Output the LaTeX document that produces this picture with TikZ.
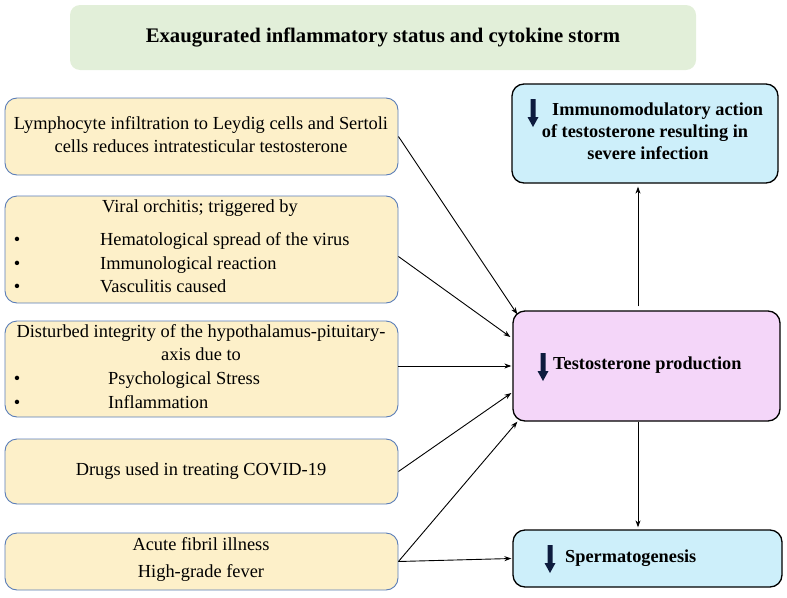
\documentclass[tikz,border=0pt]{standalone}
\usepackage{fontspec}
\setmainfont{Liberation Serif}
\usetikzlibrary{arrows.meta,calc}
\definecolor{leftfill}{HTML}{FDF0C9}
\definecolor{leftdraw}{HTML}{5A7DB8}
\definecolor{cyanfill}{HTML}{CDEFFA}
\definecolor{pinkfill}{HTML}{F4D6F9}
\definecolor{titlefill}{HTML}{E2EFD9}
\definecolor{navy}{HTML}{0D1B3E}
\begin{document}
\begin{tikzpicture}[x=1pt,y=-1pt,
 leftbox/.style={draw=leftdraw, line width=0.9pt, fill=leftfill, rounded corners=12pt, inner sep=0pt},
 rightbox/.style={draw=black, line width=1.3pt, rounded corners=12pt, inner sep=0pt},
 txt/.style={font=\fontsize{18.4}{21}\selectfont, inner sep=0pt, anchor=mid},
 ltxt/.style={txt, anchor=mid west},
 btxt/.style={font=\bfseries\fontsize{18.3}{21}\selectfont, inner sep=0pt, anchor=mid},
 conn/.style={line width=0.9pt, -{Stealth[length=7pt,width=5pt]}},
 downpic/.pic={\fill[navy] (-2.5,0) -- (2.5,0) -- (2.5,18) -- (5.5,18) -- (0,28) -- (-5.5,18) -- (-2.5,18) -- cycle;}
]
\useasboundingbox (0,0) rectangle (787,597);

% title
\node[fill=titlefill, rounded corners=10pt, minimum width=626pt, minimum height=65pt, inner sep=0pt] (title) at (383,37.5) {};
\node[btxt, font=\bfseries\fontsize{20.7}{24}\selectfont] (titletxt) at (383,40) {Exaugurated inflammatory status and cytokine storm};

% left boxes
\node[leftbox, minimum width=393pt, minimum height=77pt] (box1) at (201.5,136.5) {};
\node[leftbox, minimum width=393pt, minimum height=107pt] (box2) at (201.5,249.5) {};
\node[leftbox, minimum width=393pt, minimum height=96pt] (box3) at (201.5,369) {};
\node[leftbox, minimum width=393pt, minimum height=65pt] (box4) at (201.5,471.5) {};
\node[leftbox, minimum width=393pt, minimum height=57pt] (box5) at (201.5,561.5) {};

\node[txt] (t1a) at (201,127) {Lymphocyte infiltration to Leydig cells and Sertoli};
\node[txt] (t1b) at (201,150) {cells reduces intratesticular testosterone};

\node[txt] (t2a) at (200,210) {Viral orchitis; triggered by};
\node[txt] (b2a) at (17,243) {•};
\node[txt] (b2b) at (17,267) {•};
\node[txt] (b2c) at (17,290) {•};
\node[ltxt] (t2b) at (100,243) {Hematological spread of the virus};
\node[ltxt] (t2c) at (100,267) {Immunological reaction};
\node[ltxt] (t2d) at (100,290) {Vasculitis caused};

\node[txt] (t3a) at (201,335) {Disturbed integrity of the hypothalamus-pituitary-};
\node[txt] (t3b) at (201,358) {axis due to};
\node[txt] (b3a) at (17,382) {•};
\node[txt] (b3b) at (17,406) {•};
\node[ltxt] (t3c) at (108,382) {Psychological Stress};
\node[ltxt] (t3d) at (108,406) {Inflammation};

\node[txt] (t4) at (201,473) {Drugs used in treating COVID-19};

\node[txt] (t5a) at (201,548) {Acute fibril illness};
\node[txt] (t5b) at (201,575) {High-grade fever};

% right boxes
\node[rightbox, fill=cyanfill, minimum width=266pt, minimum height=99pt] (immuno) at (645,133.5) {};
\node[rightbox, fill=pinkfill, minimum width=267pt, minimum height=110pt] (testo) at (646.5,366) {};
\node[rightbox, fill=cyanfill, minimum width=269pt, minimum height=57pt] (sperm) at (647.5,558.5) {};

\node[btxt, anchor=mid west] (i1) at (552,113) {Immunomodulatory action};
\node[btxt] (i2) at (645,135) {of testosterone resulting in};
\node[btxt] (i3) at (648,157) {severe infection};
\pic at (533,99) {downpic};

\node[btxt, anchor=mid west] (tp) at (553,367) {Testosterone production};
\pic at (543,353) {downpic};

\node[btxt, anchor=mid west] (sp) at (565,560) {Spermatogenesis};
\pic at (550,545) {downpic};

% connectors
\draw[conn] (box1.east) -- ($(testo.north west)+(5,4)$);
\draw[conn] ($(box2.east)+(0,7)$) -- ($(testo.west)+(-2,-29)$);
\draw[conn] (box3.east |- testo.west) -- ($(testo.west)+(-1,0)$);
\draw[conn] (box4.east) -- ($(testo.west)+(-1,27)$);
\draw[conn] (box5.east) -- ($(testo.south west)+(5,0)$);
\draw[conn] (box5.east) -- ($(sperm.west)+(-1,0)$);
\draw[conn] ($(testo.north)+(-8.5,-4)$) -- ($(immuno.south)+(-7,3)$);
\draw[conn] ($(testo.south)+(-8.5,0)$) -- ($(sperm.north)+(-9.5,-2)$);
\end{tikzpicture}
\end{document}
